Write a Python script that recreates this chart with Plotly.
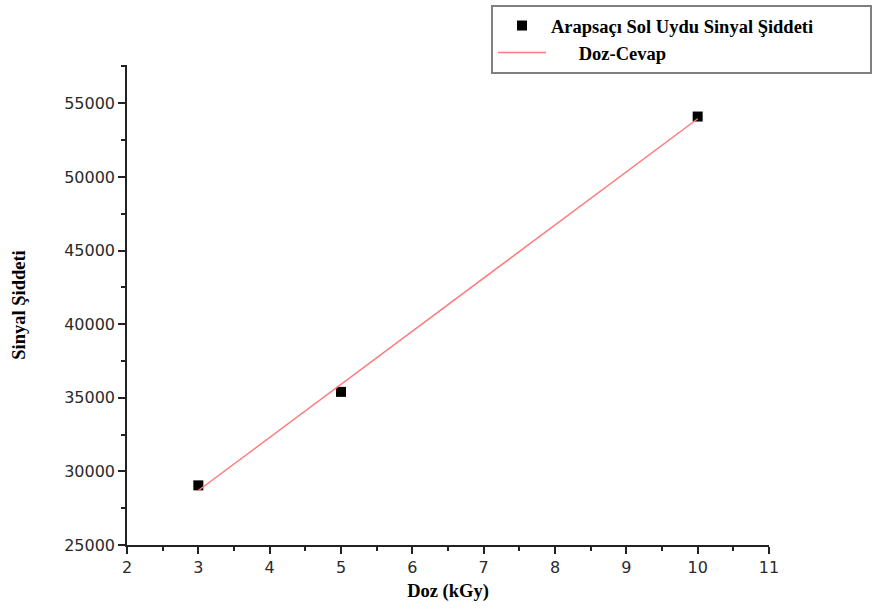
import plotly.graph_objects as go

# Measured signal intensity at each dose
dose_kgy = [3, 5, 10]
signal = [29050, 35400, 54100]

# Dose-response line endpoints
fit_dose = [3, 10]
fit_signal = [28700, 53950]

x_ticks = [2, 3, 4, 5, 6, 7, 8, 9, 10, 11]
y_ticks = [25000, 30000, 35000, 40000, 45000, 50000, 55000]

NB = "\u00a0"

fig = go.Figure()
fig.add_trace(go.Scatter(
    x=dose_kgy, y=signal, mode="markers",
    name="Arapsaçı Sol Uydu Sinyal Şiddeti" + NB * 11,
    marker=dict(symbol="square", size=10, color="black"),
))
fig.add_trace(go.Scatter(
    x=fit_dose, y=fit_signal, mode="lines",
    name=NB * 6 + "Doz-Cevap",
    line=dict(color="#ff7a7a", width=1.5),
))

axis_common = dict(
    showline=True, linecolor="#222", linewidth=1.5,
    ticks="outside", ticklen=7, tickwidth=1.5, tickcolor="#222",
    showgrid=False, zeroline=False,
    tickfont=dict(family="DejaVu Sans", size=16, color="#2a2a2a"),
    title_font=dict(family="Liberation Serif, Times New Roman", size=18.5, color="black"),
)

fig.update_xaxes(
    range=[2, 11], tickvals=x_ticks, tickformat="d",
    minor=dict(ticks="outside", ticklen=4, tickwidth=1.5, tickcolor="#222", dtick=0.5),
    title_text="<b>Doz (kGy)</b>", title_standoff=8,
    **axis_common,
)
fig.update_yaxes(
    range=[25000, 57600], tickvals=y_ticks, tickformat="d",
    minor=dict(ticks="outside", ticklen=4, tickwidth=1.5, tickcolor="#222", dtick=2500),
    title_text="<b>Sinyal Şiddeti</b>", title_standoff=34,
    **axis_common,
)

fig.update_layout(
    width=878, height=609,
    margin=dict(l=127, r=109, t=65, b=64, autoexpand=False),
    plot_bgcolor="white", paper_bgcolor="white",
    showlegend=True,
    legend=dict(
        x=0.567, y=1.125, xanchor="left", yanchor="top",
        bordercolor="#808080", borderwidth=2, bgcolor="white",
        font=dict(family="Liberation Serif, Times New Roman", size=18.5, color="black", weight="bold"),
        itemwidth=48, tracegroupgap=0,
    ),
)

fig.write_html("out.html")
